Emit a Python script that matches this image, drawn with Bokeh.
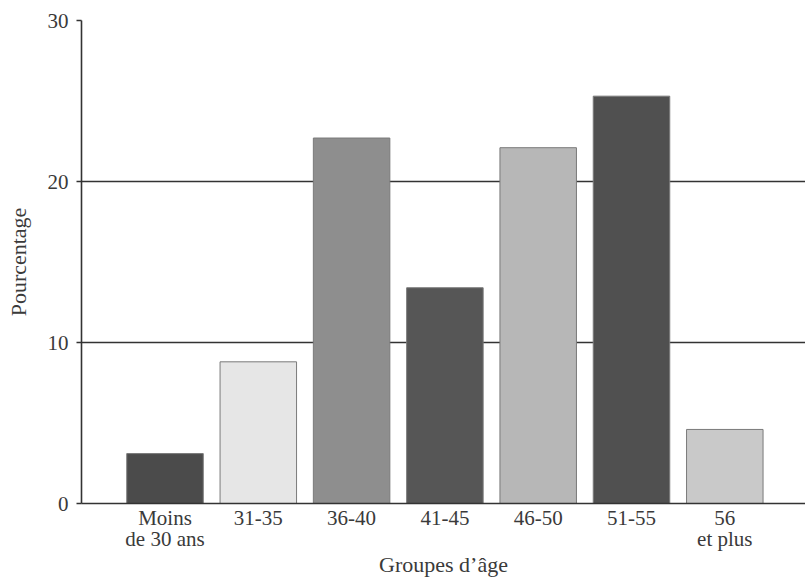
from bokeh.plotting import figure
from bokeh.models import Range1d, FixedTicker, ColumnDataSource
from bokeh.embed import file_html
from bokeh.resources import INLINE

categories = ["Moins\nde 30 ans", "31-35", "36-40", "41-45", "46-50", "51-55", "56\net plus"]
values = [3.1, 8.8, 22.7, 13.4, 22.1, 25.3, 4.6]
colors = ["#4b4b4b", "#e6e6e6", "#8e8e8e", "#565656", "#b7b7b7", "#505050", "#c9c9c9"]
y_ticks = [0, 10, 20, 30]
x_title = "Groupes d\u2019\u00e2ge"
y_title = "Pourcentage"

positions = list(range(1, len(categories) + 1))
source = ColumnDataSource(dict(x=positions, top=values, color=colors))

FONT = "Liberation Serif"
TEXT = "#3a3a3a"

p = figure(width=805, height=580, x_range=Range1d(0.105, 7.865), y_range=Range1d(0, 30),
           output_backend="svg", toolbar_location=None,
           min_border_left=81, min_border_right=0, min_border_top=20, min_border_bottom=76)
p.outline_line_color = None
p.background_fill_color = "white"
p.border_fill_color = "white"

p.vbar(x="x", top="top", width=0.82, fill_color="color", line_color="#7a7a7a",
       line_width=1, source=source)

p.xgrid.grid_line_color = None
p.ygrid.ticker = FixedTicker(ticks=y_ticks[1:])
p.ygrid.grid_line_color = "#333333"
p.ygrid.grid_line_width = 1.4

p.yaxis.ticker = FixedTicker(ticks=y_ticks)
p.xaxis.ticker = FixedTicker(ticks=positions)
p.xaxis.major_label_overrides = {i: c for i, c in zip(positions, categories)}

for ax in (p.xaxis[0], p.yaxis[0]):
    ax.axis_line_color = "#333333"
    ax.axis_line_width = 1.6
    ax.major_label_text_font = FONT
    ax.major_label_text_font_size = "21px"
    ax.major_label_text_color = TEXT
    ax.axis_label_text_font = FONT
    ax.axis_label_text_font_size = "22px"
    ax.axis_label_text_font_style = "normal"
    ax.axis_label_text_color = TEXT
    ax.minor_tick_line_color = None

p.xaxis.major_tick_line_color = None
p.xaxis.major_tick_out = 0
p.xaxis.major_tick_in = 0
p.xaxis.major_label_standoff = 2
p.xaxis.major_label_text_line_height = 0.9
p.xaxis.axis_label = x_title
p.xaxis.axis_label_standoff = -2

p.yaxis.major_tick_in = 0
p.yaxis.major_tick_out = 5
p.yaxis.major_tick_line_color = "#333333"
p.yaxis.major_tick_line_width = 1.4
p.yaxis.major_label_standoff = 8
p.yaxis.axis_label = y_title
p.yaxis.axis_label_standoff = 14

open("out.html", "w").write(file_html(p, INLINE))
